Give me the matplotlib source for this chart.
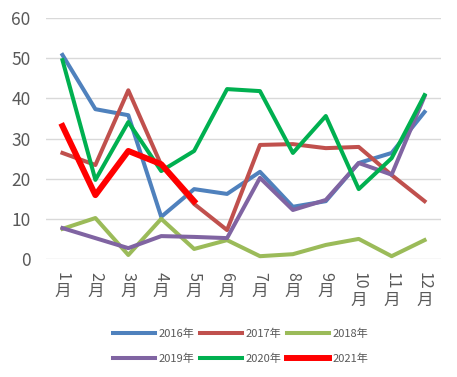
import matplotlib.pyplot as plt

plt.rcParams['font.family'] = ['Noto Sans CJK SC', 'DejaVu Sans']

months = list(range(1, 13))
month_nums = [str(m) for m in months]
y2016 = [50.8, 37.3, 35.8, 10.5, 17.4, 16.2, 21.7, 13.0, 14.4, 23.9, 26.4, 36.6]
y2017 = [26.4, 23.4, 42.0, 23.4, 13.7, 7.2, 28.4, 28.6, 27.6, 27.9, 20.9, 14.4]
y2018 = [7.5, 10.2, 1.0, 10.0, 2.5, 4.7, 0.7, 1.2, 3.5, 5.0, 0.7, 4.7]
y2019 = [7.7, 5.2, 2.7, 5.7, 5.5, 5.2, 20.2, 12.2, 14.7, 23.9, 21.0, 40.5]
y2020 = [49.5, 19.7, 34.1, 21.9, 26.9, 42.3, 41.8, 26.4, 35.6, 17.4, 25.1, 40.8]
y2021 = [33.1, 15.9, 26.9, 23.6, 14.4]

gray = '#595959'
fig = plt.figure(figsize=(4.57, 3.77), dpi=100)
ax = fig.add_axes([0.1007, 1 - 259 / 377, 0.8643, 241 / 377])

p1, = ax.plot(months, y2016, color='#4f81bd', lw=2.9)
p2, = ax.plot(months, y2017, color='#c0504d', lw=2.9)
p3, = ax.plot(months, y2018, color='#9bbb59', lw=2.9)
p4, = ax.plot(months, y2019, color='#8064a2', lw=2.9)
p5, = ax.plot(months, y2020, color='#00b050', lw=2.9)
p6, = ax.plot(months[:len(y2021)], y2021, color='#ff0000', lw=4.3)

ax.set_xlim(0.5, 12.5)
ax.set_ylim(0, 60)
ax.set_yticks(range(0, 61, 10))
ax.set_xticks([])
ax.tick_params(axis='y', length=0, labelsize=12.5, labelcolor=gray, pad=11)
ax.grid(axis='y', color='#d9d9d9', lw=1)
ax.set_axisbelow(True)
for s in ax.spines.values():
    s.set_visible(False)

# 纵排的月份标签: 数字旋转, 月字直立
tr = ax.get_xaxis_transform()
for m, txt in zip(months, month_nums):
    ax.text(m, -13 / 241, txt, transform=tr, rotation=-90, ha='center', va='top',
            fontsize=11.5, color=gray)
    y_top = (24 if len(txt) == 1 else 33) / 241
    ax.text(m, -y_top, '月', transform=tr, ha='center', va='top',
            fontsize=12, color=gray)

# legend 按列填充, 这里调换顺序让它按行排列
fig.legend([p1, p4, p2, p5, p3, p6],
           ['2016年', '2019年', '2017年', '2020年', '2018年', '2021年'],
           loc='center', bbox_to_anchor=(0.526, 0.081), ncol=3, frameon=False,
           fontsize=8, labelcolor=gray, handlelength=3.8, handletextpad=0.3,
           columnspacing=0.5, labelspacing=1.3)

plt.savefig('out.png', dpi=100)
